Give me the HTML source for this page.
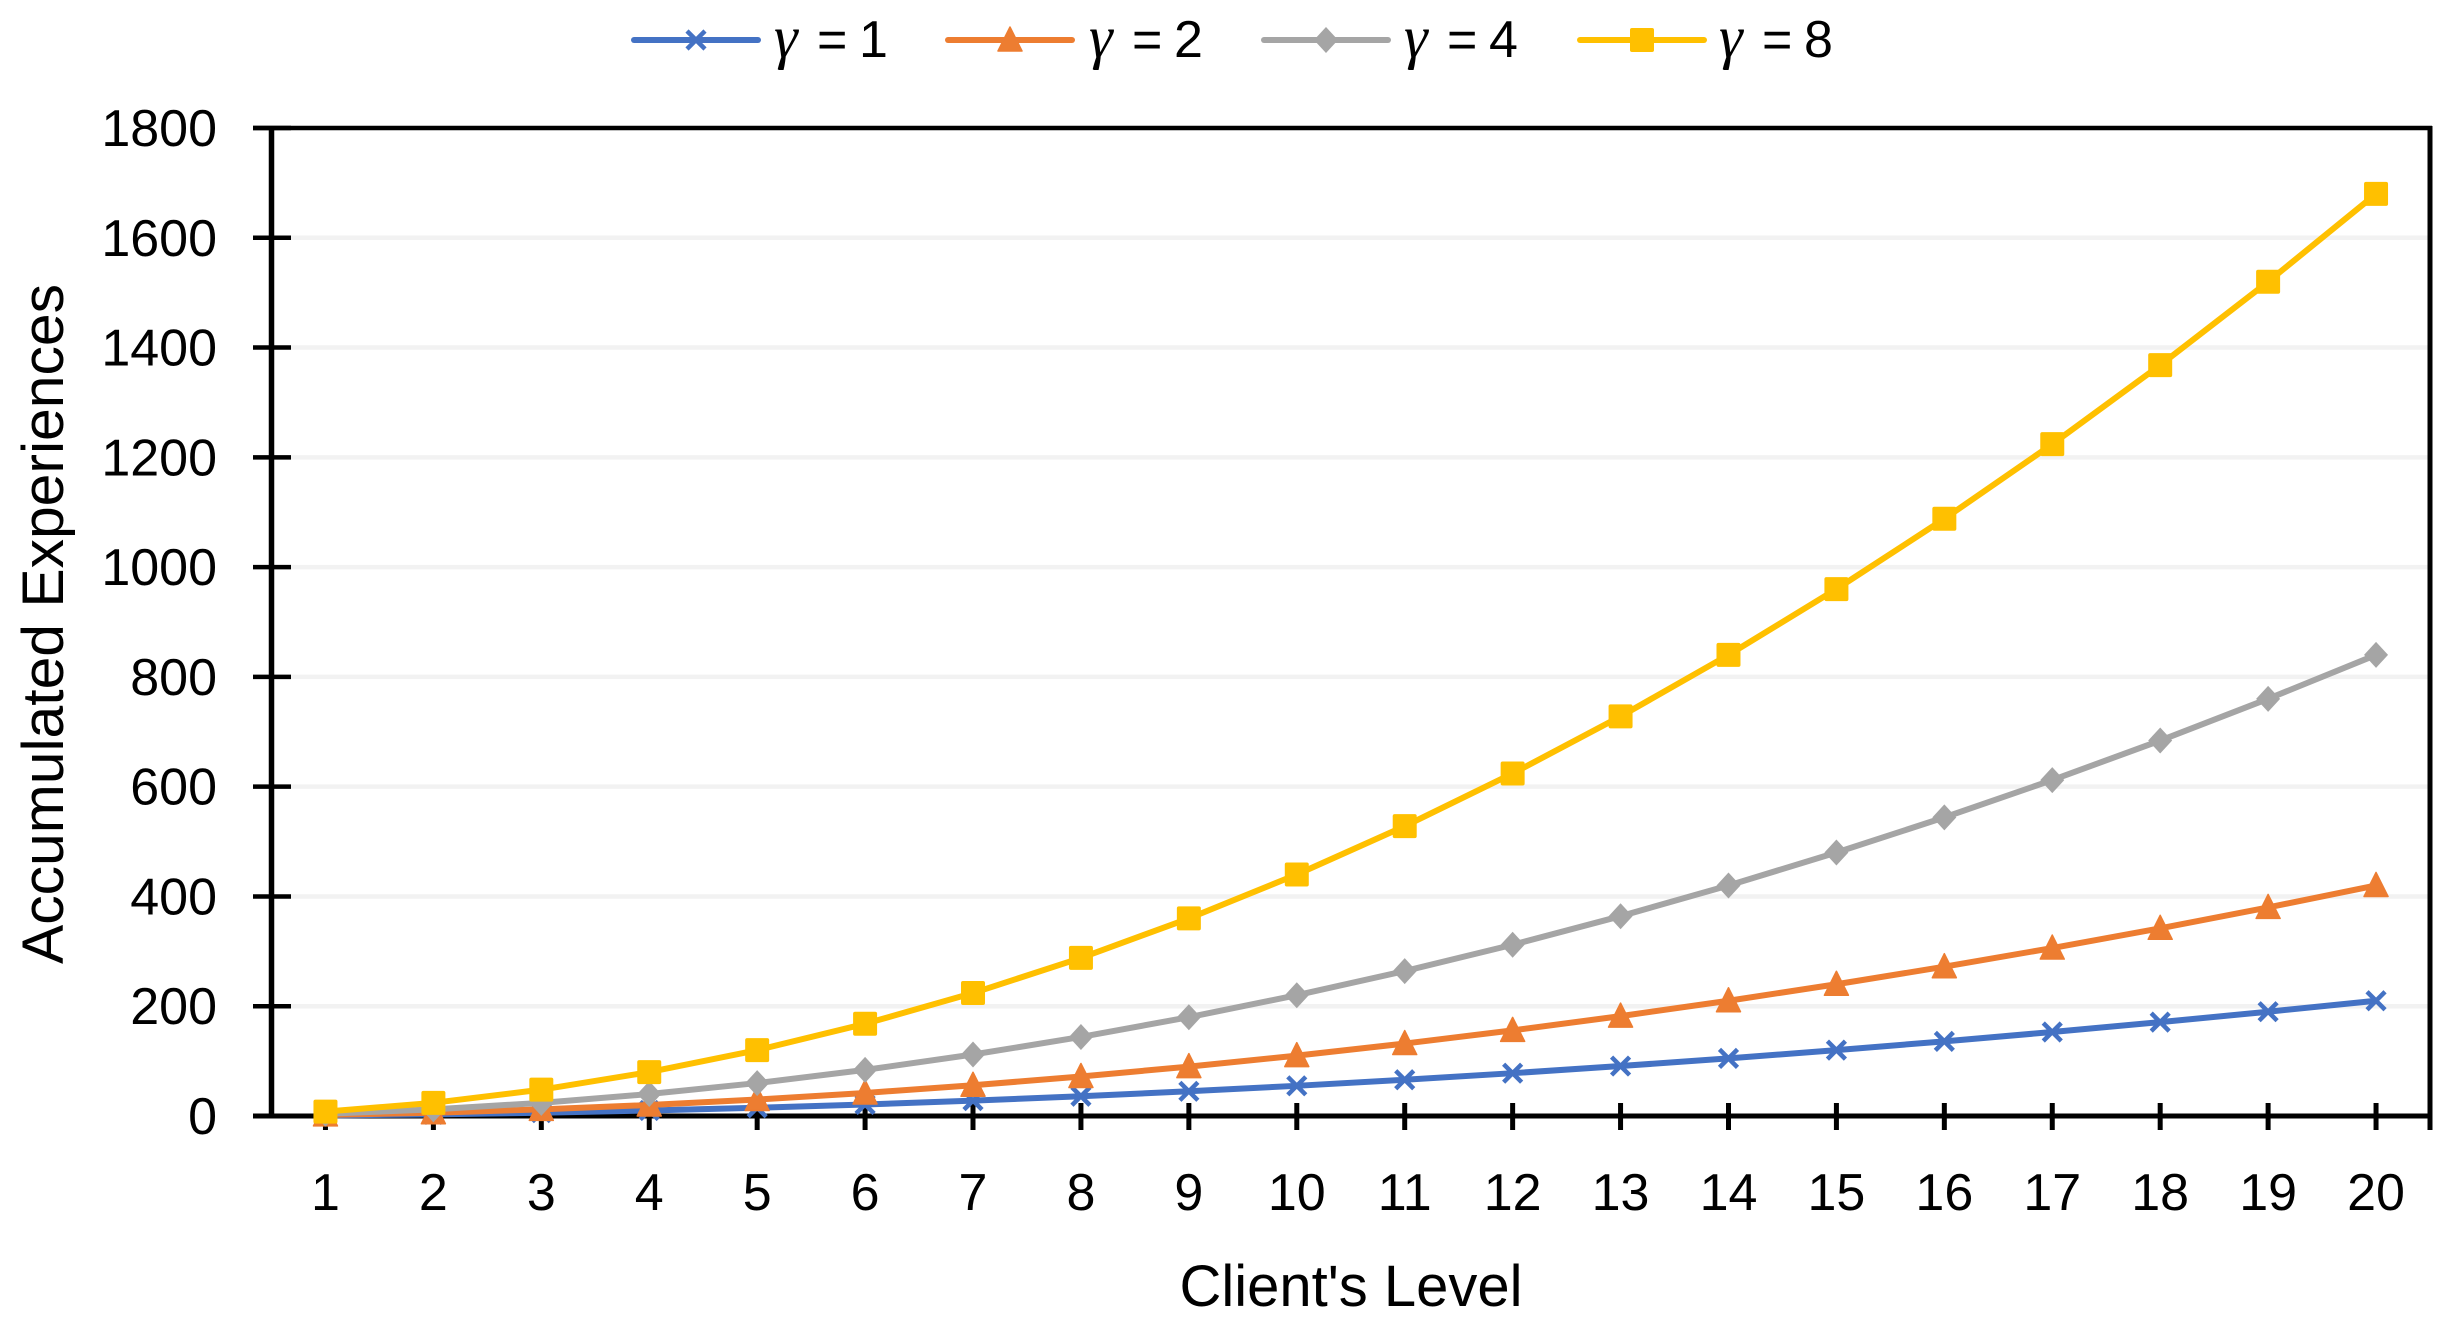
<!DOCTYPE html>
<html lang="en">
<head>
<meta charset="utf-8">
<title>Accumulated Experiences vs Client's Level</title>
<style>
html,body{margin:0;padding:0;background:#fff;}
svg{display:block;}
text{font-family:"Liberation Sans",sans-serif;fill:#000;}
.gamma{font-family:"Liberation Serif",serif;font-style:italic;}
</style>
</head>
<body>
<svg id="chart" width="2456" height="1323" viewBox="0 0 2456 1323" xmlns="http://www.w3.org/2000/svg">
<rect width="2456" height="1323" fill="#fff"/>
<g id="grid"></g>
<g id="axes"></g>
<g id="series"></g>
<g id="legend"></g>
<text x="1351" y="1306" font-size="58" text-anchor="middle" textLength="343" lengthAdjust="spacingAndGlyphs">Client's Level</text>
<text transform="translate(63,624) rotate(-90)" font-size="58" text-anchor="middle" textLength="680" lengthAdjust="spacingAndGlyphs">Accumulated Experiences</text>
</svg>
<script>
const categories = [1,2,3,4,5,6,7,8,9,10,11,12,13,14,15,16,17,18,19,20];
const yTicks = [0,200,400,600,800,1000,1200,1400,1600,1800];
const gamma1 = [1,3,6,10,15,21,28,36,45,55,66,78,91,105,120,136,153,171,190,210];
const gamma2 = [2,6,12,20,30,42,56,72,90,110,132,156,182,210,240,272,306,342,380,420];
const gamma4 = [4,12,24,40,60,84,112,144,180,220,264,312,364,420,480,544,612,684,760,840];
const gamma8 = [8,24,48,80,120,168,224,288,360,440,528,624,728,840,960,1088,1224,1368,1520,1680];
const seriesNames = ["1","2","4","8"];

const NS = "http://www.w3.org/2000/svg";
const plotLeft = 271.5, plotRight = 2430, plotTop = 128, plotBottom = 1116;
const yMax = yTicks[yTicks.length - 1];
const bandWidth = (plotRight - plotLeft) / categories.length;

function xScale(index) { return plotLeft + bandWidth * (index + 0.5); }
function yScale(value) { return plotBottom - (value / yMax) * (plotBottom - plotTop); }

function make(tag, attrs, parent) {
  const el = document.createElementNS(NS, tag);
  for (const k in attrs) el.setAttribute(k, attrs[k]);
  parent.appendChild(el);
  return el;
}

function drawMarker(kind, cx, cy, color, parent) {
  let m;
  if (kind === "x") {
    const r = 9;
    m = make("path", {d:`M${cx-r} ${cy-r}L${cx+r} ${cy+r}M${cx+r} ${cy-r}L${cx-r} ${cy+r}`, stroke:color, "stroke-width":4.5, fill:"none"}, parent);
  } else if (kind === "triangle") {
    m = make("path", {d:`M${cx} ${cy-13}L${cx+12} ${cy+11}L${cx-12} ${cy+11}Z`, fill:color, stroke:color, "stroke-width":1.5, "stroke-linejoin":"round"}, parent);
  } else if (kind === "diamond") {
    m = make("path", {d:`M${cx} ${cy-13}L${cx+12} ${cy}L${cx} ${cy+13}L${cx-12} ${cy}Z`, fill:color}, parent);
  } else {
    m = make("rect", {x:cx-12, y:cy-12, width:24, height:24, rx:2, fill:color}, parent);
  }
  return m;
}

const gridG = document.getElementById("grid");
const axesG = document.getElementById("axes");
const seriesG = document.getElementById("series");
const legendG = document.getElementById("legend");

yTicks.forEach(function (t) {
  const y = yScale(t);
  if (t !== 0 && t !== yMax) {
    const g = make("line", {x1:plotLeft, x2:plotRight, y1:y, y2:y, stroke:"#F2F2F2", "stroke-width":4.5}, gridG);
    
    
  }
  const tick = make("line", {x1:253, x2:291, y1:y, y2:y, stroke:"#000", "stroke-width":4.5}, axesG);
  
  
  const lab = make("text", {x:217, y:y + 18, "font-size":52, "text-anchor":"end"}, axesG);
  lab.textContent = t;
  
  
});

const yAxis = make("line", {x1:plotLeft, x2:plotLeft, y1:plotTop, y2:plotBottom, stroke:"#000", "stroke-width":5.5}, axesG);


const xAxis = make("line", {x1:253, x2:plotRight + 2, y1:plotBottom, y2:plotBottom, stroke:"#000", "stroke-width":5}, axesG);


const topBorder = make("line", {x1:253, x2:plotRight + 2, y1:plotTop, y2:plotTop, stroke:"#000", "stroke-width":4.5}, axesG);


const rightBorder = make("line", {x1:plotRight, x2:plotRight, y1:plotTop - 2, y2:1130, stroke:"#000", "stroke-width":5}, axesG);



categories.forEach(function (c, i) {
  const x = xScale(i);
  const tick = make("line", {x1:x, x2:x, y1:1103, y2:1130, stroke:"#000", "stroke-width":5}, axesG);
  
  
  const lab = make("text", {x:x, y:1210, "font-size":52, "text-anchor":"middle"}, axesG);
  lab.textContent = c;
  
  
});

const seriesDefs = [
  {values:gamma1, color:"#4472C4", kind:"x", slug:"gamma-1", lx:634, tx:774},
  {values:gamma2, color:"#ED7D31", kind:"triangle", slug:"gamma-2", lx:948, tx:1089},
  {values:gamma4, color:"#A5A5A5", kind:"diamond", slug:"gamma-4", lx:1264, tx:1404},
  {values:gamma8, color:"#FFC000", kind:"square", slug:"gamma-8", lx:1580, tx:1719}
];

seriesDefs.forEach(function (s, si) {
  const group = make("g", {}, seriesG);
  
  
  const pts = s.values.map(function (v, i) { return xScale(i).toFixed(2) + "," + yScale(v).toFixed(2); }).join(" ");
  const line = make("polyline", {points:pts, fill:"none", stroke:s.color, "stroke-width":6, "stroke-linejoin":"round"}, group);
  
  
  s.values.forEach(function (v, i) {
    const marker = drawMarker(s.kind, xScale(i), yScale(v), s.color, group);
    
    
  });

  const entry = make("g", {}, legendG);
  
  
  const sw = make("line", {x1:s.lx, x2:s.lx + 124, y1:40, y2:40, stroke:s.color, "stroke-width":6, "stroke-linecap":"round"}, entry);
  
  
  const lm = drawMarker(s.kind, s.lx + 62, 40, s.color, entry);
  
  
  const txt = make("text", {x:s.tx, y:57, "font-size":52}, entry);
  
  
  const g1 = make("tspan", {"class":"gamma", "font-size":60}, txt);
  g1.textContent = "\u03B3";
  const g2 = make("tspan", {x:s.tx + 43}, txt);
  g2.textContent = "=";
  const g3 = make("tspan", {x:s.tx + 85}, txt);
  g3.textContent = seriesNames[si];
});
</script>
</body>
</html>
